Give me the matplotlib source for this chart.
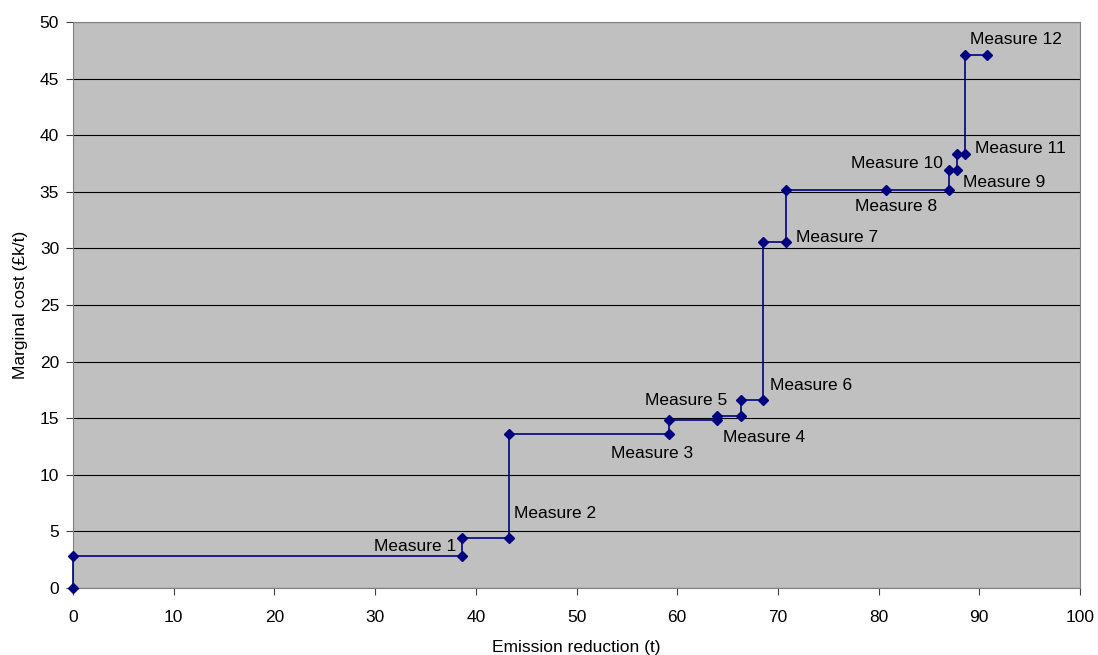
import matplotlib
matplotlib.use("Agg")
import matplotlib.pyplot as plt

# Step curve points (emission reduction t, marginal cost £k/t)
x_vals = [0, 0, 38.6, 38.6, 43.3, 43.3, 59.2, 59.2, 64.0, 64.0, 66.3, 66.3,
          68.5, 68.5, 70.8, 70.8, 80.7, 87.0, 87.0, 87.8, 87.8, 88.6, 88.6, 90.8]
y_vals = [0, 2.8, 2.8, 4.4, 4.4, 13.6, 13.6, 14.8, 14.8, 15.2, 15.2, 16.6,
          16.6, 30.6, 30.6, 35.2, 35.2, 35.2, 36.9, 36.9, 38.3, 38.3, 47.1, 47.1]

labels = ["Measure 1", "Measure 2", "Measure 3", "Measure 4", "Measure 5", "Measure 6",
          "Measure 7", "Measure 8", "Measure 9", "Measure 10", "Measure 11", "Measure 12"]
# index of the point each label is attached to
label_idx = [2, 4, 6, 8, 11, 12, 14, 16, 19, 18, 21, 22]
# offsets in pixels and horizontal alignment
label_off = [(-5, 10, "right"), (5, 25, "left"), (-17, -19, "center"), (6, -17, "left"),
             (-13, 0, "right"), (7, 15, "left"), (10, 4, "left"), (10, -17, "center"),
             (6, -12, "left"), (-6, 7, "right"), (10, 6, "left"), (5, 15, "left")]

plt.rcParams['font.family'] = ['Liberation Sans', 'DejaVu Sans']

fig = plt.figure(figsize=(10.98, 6.55), dpi=100)
ax = fig.add_axes([73/1098, 1 - 588/655, (1080 - 73)/1098, (588 - 22)/655])
ax.set_facecolor('#C0C0C0')

ax.set_xlim(0, 100)
ax.set_ylim(0, 50)
ax.set_xticks(range(0, 101, 10))
ax.set_yticks(range(0, 51, 5))
ax.yaxis.grid(True, color='black', linewidth=0.8)
ax.set_axisbelow(True)

ax.plot(x_vals, y_vals, color='#000080', linewidth=1.2, marker='D', markersize=5,
        clip_on=False, zorder=5)

for lab, idx, (dx, dy, ha) in zip(labels, label_idx, label_off):
    ax.annotate(lab, (x_vals[idx], y_vals[idx]), xytext=(dx, dy),
                textcoords='offset pixels', ha=ha, va='center', fontsize=12.5,
                color='black', zorder=6)

for s in ['left', 'bottom', 'right', 'top']:
    ax.spines[s].set_color('#808080')
ax.tick_params(axis='both', direction='out', length=5, color='#404040',
               labelsize=12.5)
ax.tick_params(axis='x', pad=10.5)
ax.tick_params(axis='y', pad=5)

ax.set_xlabel('Emission reduction (t)', fontsize=12.5, labelpad=11)
ax.set_ylabel('Marginal cost (£k/t)', fontsize=12.5, labelpad=8)

fig.savefig('out.png', dpi=100)
